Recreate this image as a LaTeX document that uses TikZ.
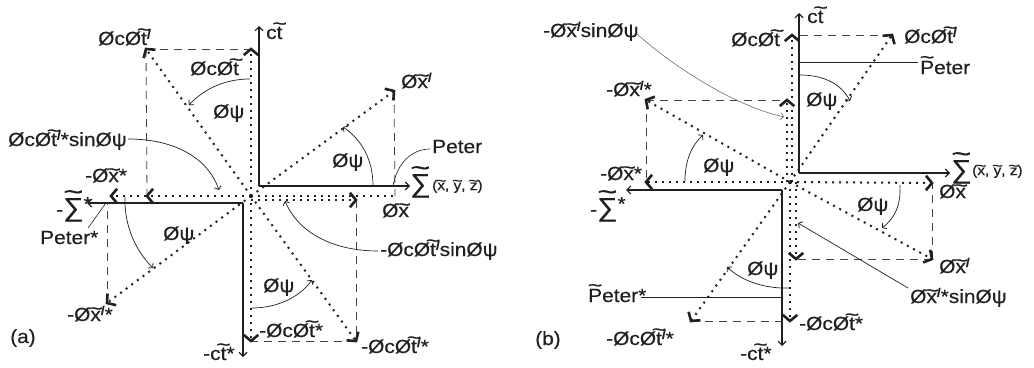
\documentclass[tikz,border=0pt]{standalone}
\usepackage{graphicx}
\usepackage{fontspec}
\setmainfont{Liberation Sans}[FakeStretch=1.1,FakeBold=0.4]
\usetikzlibrary{arrows.meta,calc}
\newcommand\tld[2][.5em]{\leavevmode\hbox{\ooalign{#2\cr\hidewidth\raisebox{#1}{\scalebox{1.2}[1]{\textasciitilde}}\hidewidth\cr}}}
\newcommand\tlt{\tld[.48em]{t}}
\newcommand\tlx{\tld[.33em]{x}}
\newcommand\tly{\tld[.33em]{y}}
\newcommand\tlz{\tld[.33em]{z}}
\newcommand\tlP{\tld[.55em]{P}}
\newcommand\prm{\raisebox{.33em}{\scalebox{.65}{\bfseries/}}}
\newcommand\Sig{{\fontsize{26}{26}\selectfont\tld[.6em]{∑}}}
\newcommand\hstar{\raisebox{.3em}{*}}
\definecolor{ink}{HTML}{231F20}
\newcommand\vecto[2]{\draw[vec] (#1) -- (#2); \draw[chev] ($(#2)!9.5pt!50:(#1)$) -- (#2) -- ($(#2)!9.5pt!-50:(#1)$);}
\begin{document}
\begin{tikzpicture}[x=1pt,y=-1pt,
  lbl/.style={inner sep=0pt,anchor=base west,text=ink,font=\fontsize{19}{20}\selectfont},
  small/.style={inner sep=0pt,anchor=base west,text=ink,font=\fontsize{14}{15}\selectfont},
  axis/.style={draw=ink,line width=1.3pt,-{Straight Barb[length=4pt,width=8pt,line width=1.1pt]}},
  vec/.style={draw=ink,line width=2pt,dash pattern=on 2pt off 5pt},
  chev/.style={draw=ink,solid,line width=2.6pt,line join=miter,line cap=butt},
  proj/.style={draw=ink,line width=2pt,dash pattern=on 2pt off 5pt},
  dsh/.style={draw=ink!85,line width=0.8pt,dash pattern=on 8pt off 6pt},
  arc/.style={draw=ink,line width=0.7pt,-{Straight Barb[length=3pt,width=7pt,line width=0.8pt]}},
  lead/.style={draw=ink,line width=0.6pt},
  leadg/.style={draw=ink!65,line width=0.6pt,-{Straight Barb[length=3pt,width=7pt,line width=0.7pt]}}]
\path[use as bounding box,fill=white] (0,0) rectangle (1034,367);

% ================= panel (a) =================
\coordinate (O1a) at (259,186);
\coordinate (CTa) at (259,26);
\coordinate (SXa) at (410,186);
\coordinate (O2a) at (243,203);
\coordinate (MSa) at (87,203);
\coordinate (MCTa) at (243,357);
\coordinate (Ca) at (251,196);
\coordinate (Ca2) at (251,200);
\coordinate (Ua) at (251,49);
\coordinate (ULa) at (146,49);
\coordinate (URa) at (394,91);
\coordinate (Ra) at (356,200);
\coordinate (RPa) at (395,196);
\coordinate (DRa) at (356,341);
\coordinate (Da) at (251,341);
\coordinate (DLa) at (107,303);
\coordinate (DLta) at (107,203);
\coordinate (La) at (111,196);
\coordinate (LPa) at (147,196);

\draw[axis] (O1a) -- (CTa);
\draw[axis] (O1a) -- (SXa);
\draw[axis] (O2a) -- (MSa);
\draw[axis] (O2a) -- (MCTa);

\draw[dsh] (ULa) -- (Ua);
\draw[dsh] (ULa) -- (LPa);
\draw[dsh] (URa) -- (RPa);
\draw[dsh] (Ra) -- (DRa);
\draw[dsh] (DRa) -- (Da);
\draw[dsh] (DLa) -- (DLta);

\vecto{Ca}{Ua}
\vecto{Ca}{ULa}
\vecto{Ca}{URa}
\draw[proj] (Ca) -- (RPa);
\vecto{Ca2}{Ra}
\vecto{Ca}{DRa}
\vecto{Ca}{Da}
\vecto{Ca}{DLa}
\vecto{Ca}{La}
\vecto{Ca}{LPa}

% angle arcs
\coordinate (A1s) at (250,79);  \coordinate (A1e) at (189,105);
\coordinate (A2s) at (373,186); \coordinate (A2e) at (343,127);
\coordinate (A3s) at (252,308); \coordinate (A3e) at (312,280);
\coordinate (A4s) at (125,197); \coordinate (A4e) at (153,268);
\draw[arc] (A1s) .. controls (226,79) and (205,88) .. (A1e);
\draw[arc] (A2s) .. controls (373,160) and (362,140) .. (A2e);
\draw[arc] (A3s) .. controls (276,308) and (299,298) .. (A3e);
\draw[arc] (A4s) .. controls (124,226) and (136,251) .. (A4e);

% label leaders
\coordinate (PeA) at (430,149); \coordinate (PeAe) at (393,186);
\draw[lead] (PeA) .. controls (412,149) and (397,163) .. (PeAe);
\coordinate (SinA1) at (128,139); \coordinate (SinA1e) at (219,190);
\draw[arc] (SinA1) .. controls (172,139) and (207,156) .. (SinA1e);
\coordinate (SinA2) at (378,251); \coordinate (SinA2e) at (285,201);
\draw[arc] (SinA2) .. controls (338,251) and (300,236) .. (SinA2e);
\coordinate (PsA) at (88,228); \coordinate (PsAe) at (106,203);
\draw[lead] (PsA) -- (PsAe);

% labels
\node[lbl] (la1) at (266,39) {c\tlt};
\node[lbl] (la2) at (410,192) {\Sig};
\node[small] (la3) at (432,190) {(\tlx, \tly, \tlz)};
\node[lbl] (la4) at (401,88) {Ø\tlx\prm};
\node[lbl] (la5) at (332,167) {Øψ};
\node[lbl] (la6) at (432,153) {Peter};
\node[lbl] (la7) at (98,45) {ØcØ\tlt\prm};
\node[lbl] (la8) at (190,75) {ØcØ\tlt};
\node[lbl] (la9) at (213,118) {Øψ};
\node[lbl] (la10) at (8,146) {ØcØ\tlt\prm*sinØψ};
\node[lbl] (la11) at (85,182) {-Ø\tlx*};
\node[lbl] (la12) at (56,216) {-\Sig\hstar};
\node[lbl] (la13) at (40,244) {Peter*};
\node[lbl] (la14) at (163,240) {Øψ};
\node[lbl] (la15) at (67,321) {-Ø\tlx\prm*};
\node[lbl] (la16) at (10,343) {(a)};
\node[lbl] (la17) at (203,360) {-c\tlt*};
\node[lbl] (la18) at (259,337) {-ØcØ\tlt*};
\node[lbl] (la19) at (361,353) {-ØcØ\tlt\prm*};
\node[lbl] (la20) at (263,292) {Øψ};
\node[lbl] (la21) at (380,256) {-ØcØ\tlt\prm sinØψ};
\node[lbl] (la22) at (382,217) {Ø\tlx};

% ================= panel (b) =================
\coordinate (O1b) at (799,173);
\coordinate (CTb) at (799,13);
\coordinate (SXb) at (950,173);
\coordinate (O2b) at (782,190);
\coordinate (MSb) at (626,190);
\coordinate (MCTb) at (782,346);
\coordinate (Cb) at (790,182);
\coordinate (Cbu) at (792,182);
\coordinate (Cbup) at (787,182);
\coordinate (Cbdp) at (796,182);
\coordinate (Ub) at (792,35);
\coordinate (UPb) at (787,100);
\coordinate (URb) at (892,35);
\coordinate (ULb) at (646,100);
\coordinate (Lb) at (646,182);
\coordinate (Rb) at (932,183);
\coordinate (DRb) at (932,259);
\coordinate (DPb) at (796,259);
\coordinate (Db) at (790,321);
\coordinate (DLb) at (691,321);

\draw[axis] (O1b) -- (CTb);
\draw[axis] (O1b) -- (SXb);
\draw[axis] (O2b) -- (MSb);
\draw[axis] (O2b) -- (MCTb);

\draw[dsh] (URb) -- (Ub);
\draw[dsh] (ULb) -- (UPb);
\draw[dsh] (ULb) -- (Lb);
\draw[dsh] (DRb) -- (Rb);
\draw[dsh] (DRb) -- (DPb);
\draw[dsh] (DLb) -- (Db);

\vecto{Cbu}{Ub}
\vecto{Cbup}{UPb}
\vecto{Cb}{URb}
\vecto{Cb}{ULb}
\vecto{Cb}{Lb}
\vecto{Cb}{Rb}
\vecto{Cb}{DRb}
\vecto{Cbdp}{DPb}
\vecto{Cb}{Db}
\vecto{Cb}{DLb}

% angle arcs
\coordinate (B1s) at (800,75);  \coordinate (B1e) at (850,101);
\coordinate (B2s) at (685,181); \coordinate (B2e) at (703,135);
\coordinate (B3s) at (900,185); \coordinate (B3e) at (882,228);
\coordinate (B4s) at (790,288); \coordinate (B4e) at (727,267);
\draw[arc] (B1s) .. controls (825,75) and (842,85) .. (B1e);
\draw[arc] (B2s) .. controls (685,160) and (692,145) .. (B2e);
\draw[arc] (B3s) .. controls (901,205) and (895,218) .. (B3e);
\draw[arc] (B4s) .. controls (765,289) and (742,281) .. (B4e);

% leaders
\coordinate (SinB1) at (636,33); \coordinate (SinB1e) at (784,117);
\draw[leadg] (SinB1) .. controls (665,60) and (730,105) .. (SinB1e);
\coordinate (SinB2) at (908,288); \coordinate (SinB2e) at (798,223);
\draw[arc] (SinB2) -- (SinB2e);
\coordinate (PeB) at (918,62); \coordinate (PeBe) at (799,62);
\draw[lead] (PeB) -- (PeBe);
\coordinate (PsB) at (641,297); \coordinate (PsBe) at (782,297);
\draw[lead] (PsB) -- (PsBe);

% labels
\node[lbl] (lb1) at (807,23) {c\tlt};
\node[lbl] (lb2) at (951,178) {\Sig};
\node[small] (lb3) at (972,175) {(\tlx, \tly, \tlz)};
\node[lbl] (lb4) at (904,43) {ØcØ\tlt\prm};
\node[lbl] (lb5) at (731,46) {ØcØ\tlt};
\node[lbl] (lb6) at (920,74) {\tlP eter};
\node[lbl] (lb7) at (806,106) {Øψ};
\node[lbl] (lb8) at (543,37) {-Ø\tlx\prm sinØψ};
\node[lbl] (lb9) at (606,96) {-Ø\tlx\prm*};
\node[lbl] (lb10) at (703,172) {Øψ};
\node[lbl] (lb11) at (600,180) {-Ø\tlx*};
\node[lbl] (lb12) at (590,216) {-\Sig\hstar};
\node[lbl] (lb13) at (857,211) {Øψ};
\node[lbl] (lb14) at (939,198) {Ø\tlx};
\node[lbl] (lb15) at (939,273) {Ø\tlx\prm};
\node[lbl] (lb16) at (910,303) {Ø\tlx\prm*sinØψ};
\node[lbl] (lb17) at (799,330) {-ØcØ\tlt*};
\node[lbl] (lb18) at (740,360) {-c\tlt*};
\node[lbl] (lb19) at (606,345) {-ØcØ\tlt\prm*};
\node[lbl] (lb20) at (747,275) {Øψ};
\node[lbl] (lb21) at (588,302) {\tlP eter*};
\node[lbl] (lb22) at (535,345) {(b)};
\end{tikzpicture}
\end{document}
